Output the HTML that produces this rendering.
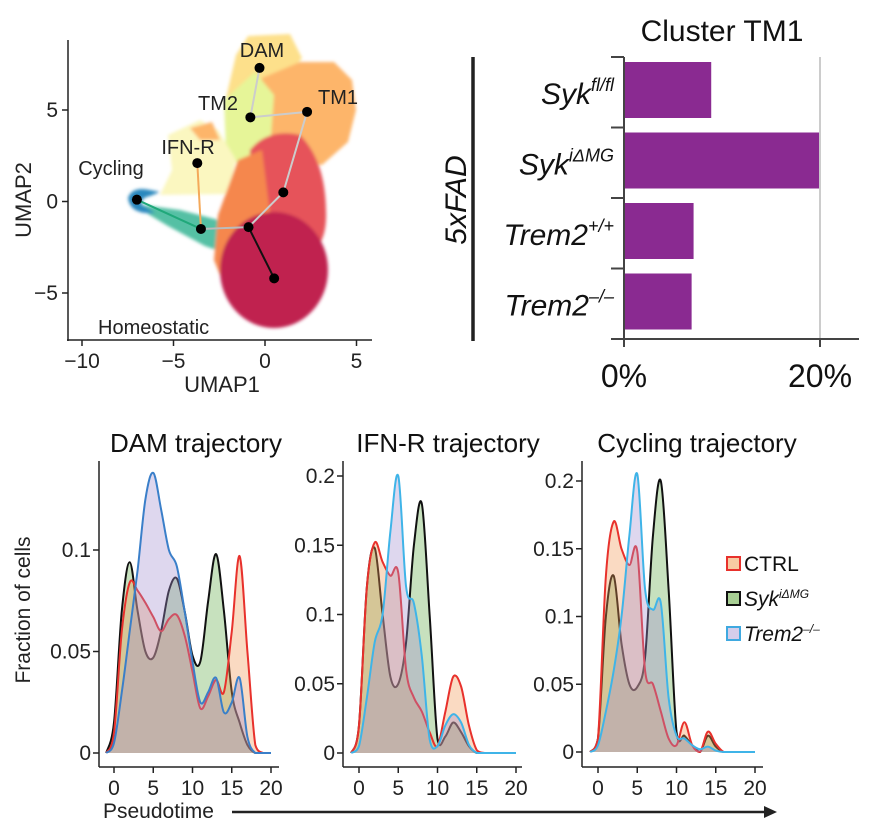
<!DOCTYPE html>
<html><head><meta charset="utf-8"><style>
html,body{margin:0;padding:0;background:#fff;}
svg{display:block;font-family:"Liberation Sans",Arial,sans-serif;}
</style></head><body>
<svg id="fig" width="876" height="828" viewBox="0 0 876 828" xmlns="http://www.w3.org/2000/svg">
<defs><filter id="bl" x="-20%" y="-20%" width="140%" height="140%"><feGaussianBlur stdDeviation="1.5"/></filter></defs>

<!-- UMAP panel -->
<g>
  <g filter="url(#bl)">
    <path d="M226,98 L236,55 L248,36 L290,34 L302,58 L282,84 L252,94 Z" fill="#fde08b"/>
    <path d="M262,78 L300,62 L334,62 L352,80 L356,110 L348,142 L322,165 L290,160 L258,125 Z" fill="#fdb56b"/>
    <path d="M224,100 L255,72 L274,95 L270,150 L252,178 L226,152 Z" fill="#e6f598"/>
    <path d="M168,135 L200,120 L218,130 L236,160 L228,194 L160,195 L172,170 Z" fill="#fbf7c0"/>
    <path d="M190,128 L212,122 L220,140 L200,140 Z" fill="#fdb56b"/>
    <path d="M142,205 L180,210 L226,222 L222,252 L205,246 L168,226 L148,214 Z" fill="#54c0a4"/>
    <path d="M250,150 Q268,128 300,135 Q325,160 326,210 Q328,250 300,260 L250,240 Z" fill="#e6535a"/>
    <path d="M238,160 L262,150 L272,230 L262,300 L230,300 L214,260 L218,215 Z" fill="#f5874e"/>
    <ellipse cx="274" cy="270" rx="54" ry="58" fill="#c0214f"/>
    <path d="M128,198 Q132,186 150,190 L160,192 L150,196 Q140,198 142,205 L155,213 Q130,215 128,198 Z" fill="#2b88be"/>
  </g>
  <g id="umapEdges"></g>
  <g id="umapNodes"></g>
  <line x1="68" y1="40" x2="68" y2="341" stroke="#222" stroke-width="1.5"/>
  <line x1="67" y1="340" x2="372" y2="340" stroke="#222" stroke-width="1.5"/>
  <g id="umapTicks" font-size="21" fill="#222"></g>
  <text x="222" y="392" font-size="22" text-anchor="middle" fill="#222">UMAP1</text>
  <text transform="translate(31,200) rotate(-90)" font-size="22" text-anchor="middle" fill="#222">UMAP2</text>
  <g font-size="20" fill="#222">
    <text x="262" y="57" text-anchor="middle">DAM</text>
    <text x="218" y="110" text-anchor="middle">TM2</text>
    <text x="338" y="104" text-anchor="middle">TM1</text>
    <text x="188" y="154" text-anchor="middle">IFN-R</text>
    <text x="111" y="175" text-anchor="middle">Cycling</text>
    <text x="98" y="334">Homeostatic</text>
  </g>
</g>

<!-- Bar chart -->
<g>
  <text x="722" y="41" font-size="30" text-anchor="middle" fill="#111">Cluster TM1</text>
  <line x1="473" y1="57" x2="473" y2="341" stroke="#222" stroke-width="3.5"/>
  <text transform="translate(466,200) rotate(-90)" font-size="30" font-style="italic" text-anchor="middle" fill="#111">5xFAD</text>
  <line x1="820" y1="57" x2="820" y2="339" stroke="#ccc" stroke-width="2"/>
  <g id="bars"></g>
  <line x1="624" y1="57" x2="624" y2="346" stroke="#444" stroke-width="2"/>
  <line x1="611" y1="339" x2="859" y2="339" stroke="#444" stroke-width="2"/>
  <g id="barTicks"></g>
</g>

<!-- Density panels -->
<g id="density"></g>
<text transform="translate(30,610) rotate(-90)" font-size="21" text-anchor="middle" fill="#222">Fraction of cells</text>
<text x="103" y="818" font-size="21" fill="#222">Pseudotime</text>
<line x1="232" y1="812" x2="765" y2="812" stroke="#222" stroke-width="2.5"/>
<polygon points="777,812 764,806 764,818" fill="#222"/>

<g font-size="21" fill="#111">
  <rect x="727" y="557" width="13" height="13" fill="#f7cba3" stroke="#e8312c" stroke-width="2"/>
  <text x="744" y="571">CTRL</text>
  <rect x="727" y="592" width="13" height="13" fill="#a8cf94" stroke="#111" stroke-width="2"/>
  <text x="744" y="606" font-style="italic">Syk<tspan font-size="12" dy="-8">iΔMG</tspan></text>
  <rect x="727" y="627" width="13" height="13" fill="#d4cdea" stroke="#3fa9e0" stroke-width="2"/>
  <text x="744" y="641" font-style="italic">Trem2<tspan font-size="12" dy="-8">–/–</tspan></text>
</g>
</svg>
<script>
var NS="http://www.w3.org/2000/svg";
function mk(tag,attrs,parent){var e=document.createElementNS(NS,tag);for(var k in attrs)e.setAttribute(k,attrs[k]);parent.appendChild(e);return e;}

// ---------- UMAP data ----------
var nodeNames=["DAM","TM2","TM1","IFN-R","Cycling","branch-a","branch-b","mid","homeostatic"];
var nodeX=[-0.3,-0.8,2.3,-3.7,-7.0,-3.5,-0.9,1.0,0.5];
var nodeY=[7.3,4.6,4.9,2.1,0.1,-1.5,-1.4,0.5,-4.2];
var edgeFrom=[0,1,2,7,6,5,5,6];
var edgeTo=[1,2,7,6,5,3,4,8];
var edgeColor=["#cccccc","#cccccc","#cccccc","#cccccc","#bbbbbb","#f4a95a","#20a87a","#111111"];
var umapXTicks=[-10,-5,0,5];
var umapYTicks=[-5,0,5];
function ux(v){return 265+v*18.3;}
function uy(v){return 201.5-v*18.3;}
var ge=document.getElementById('umapEdges');
for(var i=0;i<edgeFrom.length;i++){
  var l=mk('line',{x1:ux(nodeX[edgeFrom[i]]),y1:uy(nodeY[edgeFrom[i]]),x2:ux(nodeX[edgeTo[i]]),y2:uy(nodeY[edgeTo[i]]),stroke:edgeColor[i],'stroke-width':2},ge);
  
  
}
var gn=document.getElementById('umapNodes');
for(var i=0;i<nodeX.length;i++){
  var c=mk('circle',{cx:ux(nodeX[i]),cy:uy(nodeY[i]),r:5,fill:'#000'},gn);
  
  
}
var gt=document.getElementById('umapTicks');
umapXTicks.forEach(function(t){
  var l=mk('line',{x1:ux(t),y1:340,x2:ux(t),y2:346,stroke:'#222','stroke-width':1.5},gt);
  
  
  var s=mk('text',{x:ux(t),y:368,'text-anchor':'middle'},gt);s.textContent=(t<0?'\u2212'+(-t):t);
  
  
});
umapYTicks.forEach(function(t){
  var l=mk('line',{x1:62,y1:uy(t),x2:68,y2:uy(t),stroke:'#222','stroke-width':1.5},gt);
  
  
  var s=mk('text',{x:58,y:uy(t)+7,'text-anchor':'end'},gt);s.textContent=(t<0?'\u2212'+(-t):t);
  
  
});

// ---------- Bar data ----------
var barCats=["Syk","Syk","Trem2","Trem2"];
var barSups=["fl/fl","iΔMG","+/+","–/–"];
var barValues=[8.9,19.9,7.1,6.9];
var barTickVals=[0,20];
function bx(v){return 624+v*9.8;}
var bandTop=57,bandH=70.5;
var gb=document.getElementById('bars');
for(var i=0;i<barValues.length;i++){
  var y0=bandTop+i*bandH;
  var r=mk('rect',{x:bx(0),y:y0+5,width:bx(barValues[i])-bx(0),height:56,fill:'#8a2a91'},gb);
  
  
  var tk=mk('line',{x1:611,y1:y0,x2:624,y2:y0,stroke:'#444','stroke-width':2},gb);
  
  
  var t=mk('text',{x:614,y:y0+47,'text-anchor':'end','font-size':30,'font-style':'italic',fill:'#111'},gb);
  
  
  t.appendChild(document.createTextNode(barCats[i]));
  var sp=mk('tspan',{'font-size':18,dy:-13},t);sp.textContent=barSups[i];
}
var gbt=document.getElementById('barTicks');
barTickVals.forEach(function(v){
  var l=mk('line',{x1:bx(v),y1:339,x2:bx(v),y2:347,stroke:'#444','stroke-width':2},gbt);
  
  
  var s=mk('text',{x:bx(v),y:387,'text-anchor':'middle','font-size':32,fill:'#111'},gbt);s.textContent=v+'%';
  
  
});

// ---------- Density data ----------
var pseudotime=[-1,0,1,2,3,4,5,6,7,8,9,10,11,12,13,14,15,16,17,18,19,20];
var damCtrl =[0,0.01,0.06,0.084,0.08,0.074,0.067,0.06,0.066,0.068,0.058,0.04,0.022,0.028,0.036,0.03,0.06,0.097,0.05,0.004,0,0];
var damSyk  =[0,0.015,0.07,0.094,0.07,0.05,0.047,0.06,0.08,0.086,0.07,0.048,0.045,0.075,0.098,0.07,0.03,0.015,0.004,0,0,0];
var damTrem2=[0,0.005,0.03,0.06,0.09,0.125,0.138,0.12,0.1,0.092,0.07,0.045,0.025,0.03,0.037,0.02,0.025,0.037,0.008,0,0,0];
var ifnCtrl =[0,0.02,0.12,0.152,0.138,0.128,0.13,0.06,0.04,0.03,0.015,0.005,0.03,0.055,0.048,0.02,0.002,0,0,0,0,0];
var ifnSyk  =[0,0.02,0.12,0.148,0.1,0.055,0.05,0.08,0.15,0.18,0.1,0.01,0.012,0.022,0.015,0.005,0,0,0,0,0,0];
var ifnTrem2=[0,0.005,0.04,0.08,0.1,0.16,0.2,0.12,0.108,0.07,0.01,0.005,0.02,0.028,0.022,0.006,0,0,0,0,0,0];
var cycCtrl =[0,0.01,0.13,0.17,0.15,0.138,0.148,0.06,0.05,0.03,0.01,0.005,0.022,0.005,0,0.015,0.006,0,0,0,0,0];
var cycSyk  =[0,0.01,0.1,0.13,0.08,0.05,0.048,0.07,0.16,0.2,0.12,0.015,0.012,0.005,0,0.012,0.004,0,0,0,0,0];
var cycTrem2=[0,0.005,0.03,0.06,0.1,0.16,0.205,0.12,0.105,0.11,0.04,0.012,0.01,0.005,0.002,0.004,0.001,0,0,0,0,0];
var xTickVals=[0,5,10,15,20];
var damYTicks=[0,0.05,0.1];
var ifnYTicks=[0,0.05,0.1,0.15,0.2];
var cycYTicks=[0,0.05,0.1,0.15,0.2];

var panels=[
 {name:'dam',title:'DAM trajectory',axX:99,x0:114,pxu:7.85,y0:753,yScale:2030,top:461,right:279,series:[damSyk,damCtrl,damTrem2],yt:damYTicks,tx:196,trem:'#3a7fc9'},
 {name:'ifnr',title:'IFN-R trajectory',axX:343,x0:359,pxu:7.85,y0:753,yScale:1385,top:461,right:522,series:[ifnSyk,ifnCtrl,ifnTrem2],yt:ifnYTicks,tx:448,trem:'#3fb4e8'},
 {name:'cycling',title:'Cycling trajectory',axX:582,x0:598,pxu:7.85,y0:752,yScale:1355,top:461,right:763,series:[cycSyk,cycCtrl,cycTrem2],yt:cycYTicks,tx:697,trem:'#3fb4e8'}
];
var sNames=['syk','ctrl','trem2'];
var sFill=['rgba(95,170,70,0.35)','rgba(240,150,80,0.35)','rgba(160,140,205,0.35)'];
var gd=document.getElementById('density');
panels.forEach(function(p){
  var g=mk('g',{},gd);
  
  
  function px(t){return p.x0+t*p.pxu;}
  function py(v){return p.y0-v*p.yScale;}
  var tt=mk('text',{x:p.tx,y:452,'text-anchor':'middle','font-size':26,fill:'#111'},g);tt.textContent=p.title;
  
  
  var strokes=['#111','#e8312c',p.trem];
  p.series.forEach(function(vals,si){
    var pts=pseudotime.map(function(t,i){return [px(t),py(vals[i])];});
    var d='M'+pts[0][0]+','+pts[0][1];
    for(var i=0;i<pts.length-1;i++){
      var a=pts[Math.max(0,i-1)],b=pts[i],c=pts[i+1],e=pts[Math.min(pts.length-1,i+2)];
      var c1x=b[0]+(c[0]-a[0])/6,c1y=Math.min(p.y0,b[1]+(c[1]-a[1])/6);
      var c2x=c[0]-(e[0]-b[0])/6,c2y=Math.min(p.y0,c[1]-(e[1]-b[1])/6);
      d+=' C'+c1x.toFixed(1)+','+c1y.toFixed(1)+' '+c2x.toFixed(1)+','+c2y.toFixed(1)+' '+c[0].toFixed(1)+','+c[1].toFixed(1);
    }
    var f=mk('path',{d:d+' L'+pts[pts.length-1][0]+','+p.y0+' L'+pts[0][0]+','+p.y0+' Z',fill:sFill[si],stroke:'none'},g);
    
    
    var ln=mk('path',{d:d,fill:'none',stroke:strokes[si],'stroke-width':2},g);
    
    
  });
  var ya=mk('line',{x1:p.axX,y1:p.top,x2:p.axX,y2:767,stroke:'#222','stroke-width':1.5},g);
  
  
  var xa=mk('line',{x1:p.axX,y1:767,x2:p.right,y2:767,stroke:'#222','stroke-width':1.5},g);
  
  
  xTickVals.forEach(function(t){
    var l=mk('line',{x1:px(t),y1:767,x2:px(t),y2:773,stroke:'#222','stroke-width':1.5},g);
    
    
    var s=mk('text',{x:px(t),y:795,'text-anchor':'middle','font-size':21,fill:'#222'},g);s.textContent=t;
    
    
  });
  p.yt.forEach(function(v){
    var l=mk('line',{x1:p.axX-6,y1:py(v),x2:p.axX,y2:py(v),stroke:'#222','stroke-width':1.5},g);
    
    
    var s=mk('text',{x:p.axX-8,y:py(v)+7,'text-anchor':'end','font-size':21,fill:'#222'},g);s.textContent=v;
    
    
  });
});
</script>
</body></html>
